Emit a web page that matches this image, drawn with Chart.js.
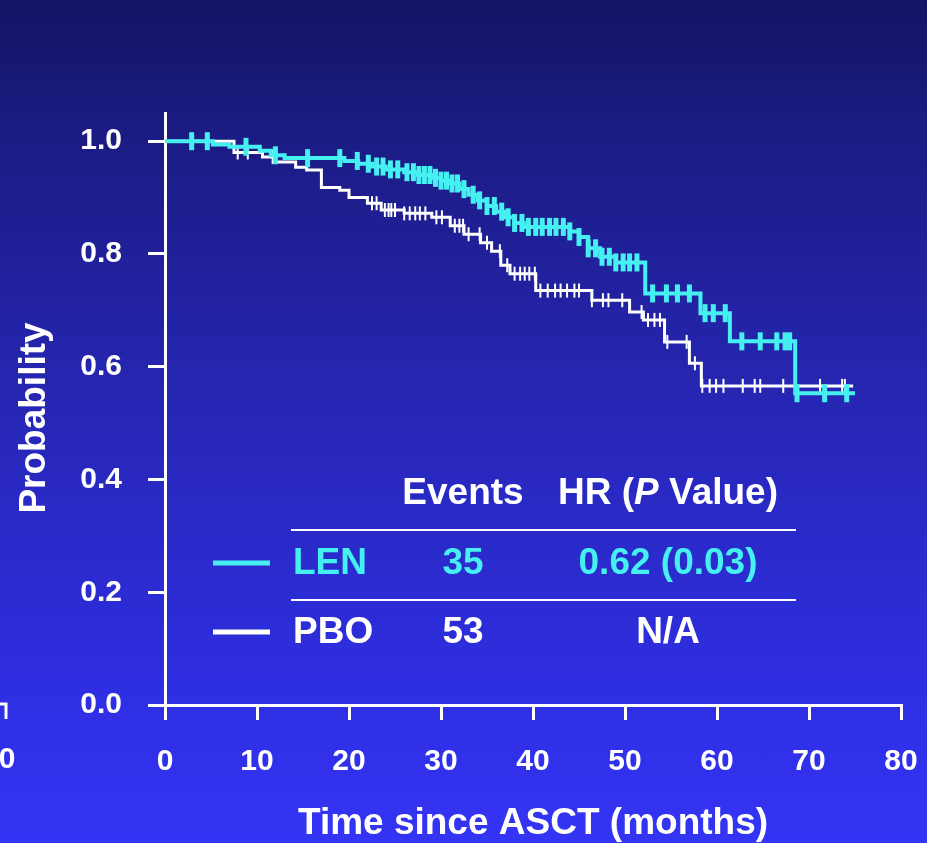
<!DOCTYPE html>
<html>
<head>
<meta charset="utf-8">
<script src="https://cdn.jsdelivr.net/npm/chart.js@4.4.0/dist/chart.umd.min.js"></script>
<style>
  html, body { margin: 0; padding: 0; }
  body {
    width: 927px; height: 843px; overflow: hidden;
    background: linear-gradient(to bottom, #141464 0%, #1b1b82 15%, #2727b8 50%, #2f2fe6 85%, #3434f4 100%);
  }
  canvas { display: block; }
</style>
</head>
<body>
<canvas id="kmChart" width="927" height="843"></canvas>
<script>
// Kaplan-Meier steps: [time in months, survival probability]
const lenSteps = [
  [0, 1.0], [5.2, 0.994], [7, 0.99], [10.3, 0.983], [11.5, 0.975], [13, 0.97],
  [19.5, 0.965], [21, 0.96], [22.5, 0.955], [24, 0.95], [26, 0.945], [27.5, 0.94],
  [29, 0.935], [30, 0.93], [31, 0.925], [32, 0.915], [33, 0.905], [34, 0.895],
  [35, 0.885], [36, 0.875], [37, 0.865], [38, 0.855], [39, 0.848], [44, 0.84],
  [45, 0.83], [46, 0.81], [47.3, 0.795], [49, 0.785], [52.2, 0.73], [58.2, 0.695],
  [61.4, 0.645], [68.5, 0.553], [75, 0.553]
];
const pboSteps = [
  [0, 1.0], [7.5, 0.98], [10.6, 0.972], [11.8, 0.963], [14.2, 0.954], [15.4, 0.949],
  [17, 0.918], [19, 0.913], [20, 0.9], [22, 0.89], [23.5, 0.878], [26, 0.872],
  [29, 0.865], [31, 0.85], [32.5, 0.835], [34.3, 0.82], [35.5, 0.805], [36.5, 0.78],
  [37.5, 0.765], [40.3, 0.735], [46.4, 0.718], [50.5, 0.697], [52, 0.683],
  [54.3, 0.644], [57, 0.606], [58.3, 0.566], [74.8, 0.566]
];
// censored observations (months)
const lenCensored = [
  2.9, 4.6, 8.8, 12, 15.5, 19, 20.9, 22.1, 23, 23.7, 24.5, 25.3, 26.3, 27, 27.6, 28.2,
  28.8, 29.4, 30, 30.6, 31.2, 31.8, 32.5, 33.5, 34.2, 35, 35.8, 36.6, 37.3, 38, 38.8,
  39.5, 40.3, 41, 41.8, 42.5, 43.3, 44, 45, 46, 46.8, 47.5, 48.3, 49, 49.8, 50.5, 51.3,
  53, 54.5, 55.7, 57, 58.7, 59.6, 60.9, 62.7, 64.7, 66.5, 67.4, 67.9, 68.7, 71.7, 74.1
];
const pboCensored = [
  7.9, 9, 11.7, 22.5, 23, 23.9, 24.3, 24.6, 25, 26, 26.6, 27.2, 27.7, 28.3, 29.5, 30.1,
  31.5, 32, 32.4, 33, 34.2, 35, 36.4, 37.2, 38, 38.6, 39.1, 39.6, 40.2, 40.8, 41.6, 42.4,
  43, 43.7, 44.5, 45, 46.4, 47.6, 48.2, 49.7, 51.8, 52.5, 53.2, 53.8, 54.6, 56.7, 57.6,
  58.4, 59.2, 59.9, 60.7, 62.8, 64.1, 64.7, 67.2, 71.2, 73.6, 73.9
];
const xTicks = [0, 10, 20, 30, 40, 50, 60, 70, 80];
const yTicks = [0, 0.2, 0.4, 0.6, 0.8, 1.0];

const tableHeader = ['Events', 'HR (P Value)'];
const groups = ['LEN', 'PBO'];
const events = ['35', '53'];
const hrText = ['0.62 (0.03)', 'N/A'];

const CYAN = '#46f0f0';
const FONT = '"Liberation Sans", Arial, sans-serif';
const BIG = 'bold 37px ';

// value of the step curve at time t
function survivalAt(steps, t) {
  let s = steps[0][1];
  for (const [time, val] of steps) {
    if (time <= t) s = val;
  }
  return s;
}
const toXY = steps => steps.map(([x, y]) => ({ x, y }));
const censorPoints = (steps, times) => times.map(t => ({ x: t, y: survivalAt(steps, t) }));

const tablePlugin = {
  id: 'kmTable',
  afterDraw(chart) {
    const ctx = chart.ctx;
    ctx.save();
    // rules of the table
    ctx.strokeStyle = '#ffffff';
    ctx.lineWidth = 2;
    [530, 600].forEach(y => {
      ctx.beginPath(); ctx.moveTo(291, y); ctx.lineTo(796, y); ctx.stroke();
    });
    // legend lines
    ctx.lineWidth = 5;
    ctx.strokeStyle = CYAN;
    ctx.beginPath(); ctx.moveTo(213, 563); ctx.lineTo(270, 563); ctx.stroke();
    ctx.strokeStyle = '#ffffff';
    ctx.beginPath(); ctx.moveTo(213, 632); ctx.lineTo(270, 632); ctx.stroke();

    ctx.textBaseline = 'middle';
    ctx.font = BIG + FONT;
    ctx.fillStyle = '#ffffff';
    ctx.textAlign = 'center';
    ctx.fillText(tableHeader[0], 463, 494);
    // "HR (P Value)" with italic P
    const parts = [['HR (', BIG], ['P', 'italic ' + BIG], [' Value)', BIG]];
    let total = 0;
    parts.forEach(([t, f]) => { ctx.font = f + FONT; total += ctx.measureText(t).width; });
    let x = 668 - total / 2;
    ctx.textAlign = 'left';
    parts.forEach(([t, f]) => {
      ctx.font = f + FONT;
      ctx.fillText(t, x, 494);
      x += ctx.measureText(t).width;
    });

    ctx.font = BIG + FONT;
    const rowsY = [564, 633];
    const rowColors = [CYAN, '#ffffff'];
    groups.forEach((g, i) => {
      ctx.fillStyle = rowColors[i];
      ctx.textAlign = 'left';
      ctx.fillText(g, 293, rowsY[i]);
      ctx.textAlign = 'center';
      ctx.fillText(events[i], 463, rowsY[i]);
      ctx.fillText(hrText[i], 668, rowsY[i]);
    });

    // y axis title
    ctx.save();
    ctx.translate(35, 418);
    ctx.rotate(-Math.PI / 2);
    ctx.fillStyle = '#ffffff';
    ctx.textAlign = 'center';
    ctx.fillText('Probability', 0, 0);
    ctx.restore();

    // edge of the neighbouring panel
    ctx.strokeStyle = '#ffffff';
    ctx.lineWidth = 3;
    ctx.beginPath(); ctx.moveTo(0, 704); ctx.lineTo(6, 704); ctx.lineTo(6, 719); ctx.stroke();
    ctx.font = 'bold 30px ' + FONT;
    ctx.fillStyle = '#ffffff';
    ctx.textAlign = 'center';
    ctx.fillText('0', 7, 760);
    ctx.restore();
  }
};

const ctx = document.getElementById('kmChart').getContext('2d');
new Chart(ctx, {
  type: 'line',
  data: {
    datasets: [
      {
        label: 'LEN censored', data: censorPoints(lenSteps, lenCensored), showLine: false,
        pointStyle: 'line', rotation: 90, pointRadius: 9, borderColor: CYAN, borderWidth: 5,
        pointBorderColor: CYAN, pointBorderWidth: 5
      },
      {
        label: 'LEN', data: toXY(lenSteps), stepped: true, borderColor: CYAN,
        borderWidth: 4, pointRadius: 0, fill: false
      },
      {
        label: 'PBO censored', data: censorPoints(pboSteps, pboCensored), showLine: false,
        pointStyle: 'line', rotation: 90, pointRadius: 7, borderColor: '#ffffff', borderWidth: 2,
        pointBorderColor: '#ffffff', pointBorderWidth: 2
      },
      {
        label: 'PBO', data: toXY(pboSteps), stepped: true, borderColor: '#ffffff',
        borderWidth: 3, pointRadius: 0, fill: false
      }
    ]
  },
  options: {
    responsive: false,
    animation: false,
    devicePixelRatio: 1,
    layout: { padding: { top: 113, right: 26, left: 0, bottom: 0 } },
    plugins: { legend: { display: false }, tooltip: { enabled: false } },
    scales: {
      x: {
        type: 'linear', min: 0, max: 80,
        afterFit: s => { s.height = 138; s.paddingLeft = 0; s.paddingRight = 0; },
        afterBuildTicks: s => { s.ticks = xTicks.map(v => ({ value: v })); },
        grid: { drawOnChartArea: false, color: '#ffffff', lineWidth: 3, tickLength: 15 },
        border: { color: '#ffffff', width: 3 },
        ticks: { color: '#ffffff', font: { family: FONT, size: 30, weight: 'bold' }, padding: 24, maxRotation: 0 },
        title: {
          display: true, text: 'Time since ASCT (months)', color: '#ffffff',
          font: { family: FONT, size: 37, weight: 'bold' }, padding: { top: 0, bottom: -3 }
        }
      },
      y: {
        min: 0, max: 1.05,
        afterFit: s => { s.width = 165; s.paddingTop = 0; s.paddingBottom = 0; },
        afterBuildTicks: s => { s.ticks = yTicks.map(v => ({ value: v })); },
        grid: { drawOnChartArea: false, color: '#ffffff', lineWidth: 3, tickLength: 17 },
        border: { color: '#ffffff', width: 3 },
        ticks: {
          color: '#ffffff', font: { family: FONT, size: 30, weight: 'bold' }, padding: 26,
          callback: v => Number(v).toFixed(1)
        }
      }
    }
  },
  plugins: [tablePlugin]
});
</script>
</body>
</html>
